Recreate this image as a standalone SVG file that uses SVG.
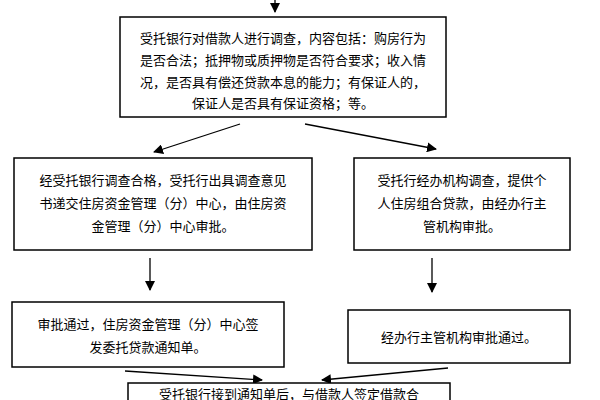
<svg xmlns="http://www.w3.org/2000/svg" width="600" height="400" viewBox="0 0 600 400">
<defs><marker id="a" markerWidth="10" markerHeight="10" refX="9" refY="5" orient="auto" markerUnits="userSpaceOnUse"><path d="M0,0 L10,5 L0,10 z" fill="#000"/></marker>
<style>rect{fill:#fff;stroke:#000;stroke-width:1.5}text{font-family:"Noto Sans CJK SC",sans-serif;font-size:13px;fill:#000;text-anchor:middle}line{stroke:#000;stroke-width:1.3;marker-end:url(#a)}</style></defs>
<rect width="600" height="400" style="stroke:none"/>
<g id="connectors">
<line x1="275" y1="0" x2="275" y2="12"/>
<line x1="240" y1="124" x2="154" y2="152"/>
<line x1="305" y1="124" x2="436" y2="149"/>
<line x1="150" y1="258" x2="150" y2="290"/>
<line x1="432" y1="258" x2="432" y2="292"/>
<line x1="125" y1="371" x2="262" y2="380"/>
<line x1="448" y1="368" x2="322" y2="380"/>
</g>
<g id="n1"><rect x="120" y="17" width="326" height="100"/>
<text x="283" y="43">受托银行对借款人进行调查，内容包括：购房行为</text>
<text x="283" y="65">是否合法；抵押物或质押物是否符合要求；收入情</text>
<text x="283" y="87">况，是否具有偿还贷款本息的能力；有保证人的，</text>
<text x="283" y="108">保证人是否具有保证资格；等。</text></g>
<g id="n2"><rect x="14" y="158" width="298" height="92"/>
<text x="163" y="185">经受托银行调查合格，受托行出具调查意见</text>
<text x="163" y="208">书递交住房资金管理（分）中心，由住房资</text>
<text x="163" y="231">金管理（分）中心审批。</text></g>
<g id="n3"><rect x="354" y="158" width="216" height="92"/>
<text x="462" y="185">受托行经办机构调查，提供个</text>
<text x="462" y="208">人住房组合贷款，由经办行主</text>
<text x="462" y="231">管机构审批。</text></g>
<g id="n4"><rect x="12" y="302" width="272" height="65"/>
<text x="148" y="329">审批通过，住房资金管理（分）中心签</text>
<text x="148" y="352">发委托贷款通知单。</text></g>
<g id="n5"><rect x="348" y="310" width="222" height="53"/>
<text x="459" y="342">经办行主管机构审批通过。</text></g>
<g id="n6"><rect x="128" y="383" width="322" height="40"/>
<text x="289" y="399">受托银行接到通知单后，与借款人签定借款合</text></g>
</svg>
